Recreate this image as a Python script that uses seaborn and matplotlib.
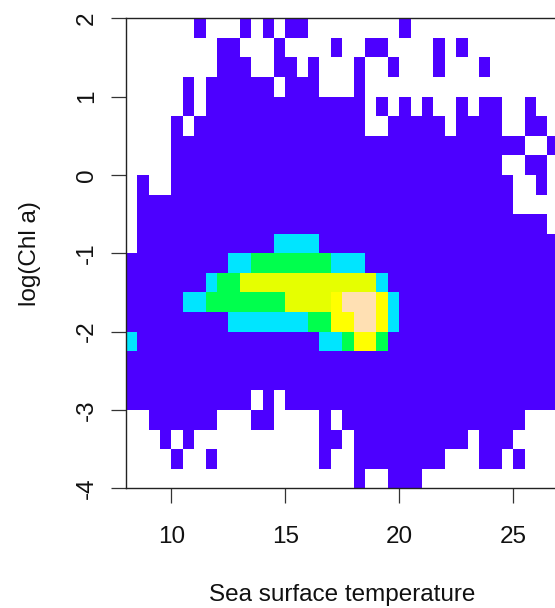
import numpy as np
import pandas as pd
import seaborn as sns
import matplotlib.pyplot as plt
from matplotlib.colors import ListedColormap

# bins of the 2D histogram: SST in 0.5 deg steps, log(Chl a) in 0.25 steps
sst_edges = np.arange(8.0, 27.01, 0.5)
chl_edges = np.arange(2.0, -4.01, -0.25)

# colour class of every cell, top row = log(Chl a) 2.0 .. 1.75
# '.' = empty, 0..5 = topo.colors classes (low -> high density)
density_rows = [
    "......0...0.0.00........0.............",
    "........00...0....0..00....0.0........",
    "........000..00.0...0..0...0...0......",
    ".....0.000000.000...0.................",
    ".....0.00000000000000.0.0.0..0.00..0..",
    "....0.000000000000000..00000.0000..00.",
    "....0000000000000000000000000000000..0",
    "....00000000000000000000000000000..00.",
    ".0..000000000000000000000000000000..0.",
    ".000000000000000000000000000000000....",
    ".000000000000000000000000000000000000.",
    ".0000000000001111000000000000000000000",
    "00000000011222222211100000000000000000",
    "00000001223333333333331000000000000000",
    "00000112222222333345554100000000000000",
    "00000000011111112244554100000000000000",
    "10000000000000000112442000000000000000",
    "00000000000000000000000000000000000000",
    "00000000000000000000000000000000000000",
    "00000000000.0.000000000000000000000000",
    "..000000...00....0.0000000000000000...",
    "...0.0...........00.0000000000.000....",
    "....0..0.........0..00000000...00.0...",
    "....................0..000............",
]

level_colors = ["#4C00FF", "#00E5FF", "#00FF4D", "#E6FF00", "#FFFF00", "#FFE0B3"]
x_ticks = [10, 15, 20, 25]
y_ticks = [2, 1, 0, -1, -2, -3, -4]

for r in density_rows:
    assert len(r) == len(sst_edges) - 1, (len(r), r)
assert len(density_rows) == len(chl_edges) - 1

grid = np.array([[np.nan if ch == "." else float(ch) for ch in row] for row in density_rows])
sst_mid = (sst_edges[:-1] + sst_edges[1:]) / 2
chl_mid = (chl_edges[:-1] + chl_edges[1:]) / 2
df = pd.DataFrame(grid, index=chl_mid, columns=sst_mid)

sns.set_style("white")
plt.rcParams['font.family'] = ['Liberation Sans', 'DejaVu Sans']

fig = plt.figure(figsize=(5.55, 6.08), dpi=100)
# plot region runs a little past the right border (the original is cropped)
ax = fig.add_axes([0.2265, 0.1969, 0.7805, 0.773])
sns.heatmap(df, ax=ax, cmap=ListedColormap(level_colors), vmin=-0.5,
            vmax=len(level_colors) - 0.5, cbar=False,
            xticklabels=False, yticklabels=False)

col_idx = np.arange(len(sst_edges))
row_idx = np.arange(len(chl_edges))
ax.set_xticks(np.interp(x_ticks, sst_edges, col_idx))
ax.set_xticklabels([str(v) for v in x_ticks], rotation=0)
ax.set_yticks(np.interp(y_ticks, chl_edges[::-1], row_idx[::-1]))
ax.set_yticklabels([str(v) for v in y_ticks], rotation=90, va='center')

for side in ['left', 'bottom', 'top']:
    ax.spines[side].set_visible(True)
    ax.spines[side].set_color('#222222')
    ax.spines[side].set_linewidth(1.0)
ax.spines['right'].set_visible(False)

ax.tick_params(axis='both', length=10.8, width=0.9, color='#333333',
               labelsize=17.5, labelcolor='#111111')
ax.tick_params(axis='x', pad=16, bottom=True)
ax.tick_params(axis='y', pad=9, left=True)

ax.set_xlabel('Sea surface temperature', fontsize=17.5, color='#111111')
ax.set_ylabel('log(Chl a)', fontsize=17.5, color='#111111')
ax.xaxis.set_label_coords(0.5, -0.203)
ax.yaxis.set_label_coords(-0.195, 0.5)

fig.savefig('out.png', dpi=100)
